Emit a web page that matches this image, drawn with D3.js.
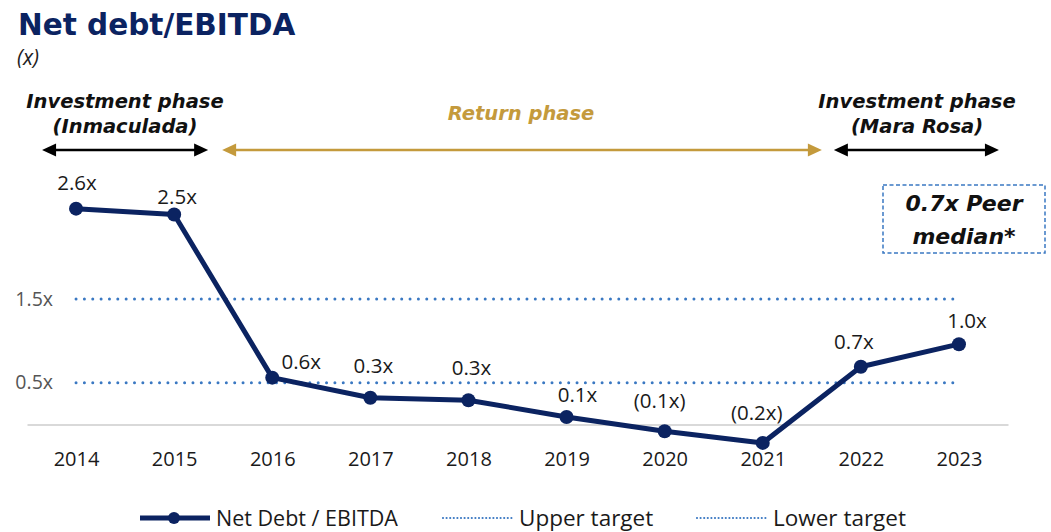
<!DOCTYPE html>
<html>
<head>
<meta charset="utf-8">
<script src="https://cdn.jsdelivr.net/npm/d3@7"></script>
<style>
  body { margin: 0; background: #fff; }
  svg { font-family: "Open Sans", sans-serif; }
  .heavy { font-family: "DejaVu Sans", sans-serif; font-weight: bold; }
</style>
</head>
<body>
<script>
// Data
const years = ["2014", "2015", "2016", "2017", "2018", "2019", "2020", "2021", "2022", "2023"];
const netDebtEbitda = [2.58, 2.51, 0.56, 0.32, 0.29, 0.09, -0.08, -0.22, 0.69, 0.96];
const valueLabels = ["2.6x", "2.5x", "0.6x", "0.3x", "0.3x", "0.1x", "(0.1x)", "(0.2x)", "0.7x", "1.0x"];
const upperTarget = 1.5;
const lowerTarget = 0.5;
const yTicks = [0.5, 1.5];
const seriesNames = ["Net Debt / EBITDA", "Upper target", "Lower target"];

// label nudges (dx, dy from the point), as placed in the original
const labelNudge = [[1, -19], [3, -10], [29, -9], [3, -25], [3, -25], [11, -15], [-5, -23], [-6, -23], [-7, -18], [8, -16]];

const navy = "#0b2361";
const blue = "#3a78c2";
const gold = "#c49a3c";

const width = 1051, height = 532;

const svg = d3.select("body")
  .append("svg")
  .attr("width", width)
  .attr("height", height);

// Scales
const x = d3.scalePoint()
  .domain(years)
  .range([27, 1008])
  .padding(0.5);

const y = d3.scaleLinear()
  .domain([0, 1.5])
  .range([424.5, 299]);

// Title
svg.append("text")
  .attr("class", "heavy")
  .attr("x", 18).attr("y", 35)
  .attr("font-size", 29.5)
  .attr("fill", navy)
  .text("Net debt/EBITDA");
svg.append("text")
  .attr("x", 17).attr("y", 65)
  .attr("font-size", 21).attr("font-style", "italic")
  .attr("fill", "#222")
  .text("(x)");

// X axis
const xAxis = svg.append("g")
  .attr("transform", `translate(0,${y(0)})`)
  .call(d3.axisBottom(x).tickSize(0).tickSizeOuter(0).tickPadding(27));
xAxis.select(".domain").attr("stroke", "#d9d9d9").attr("stroke-width", 2);
xAxis.selectAll("text")
  .attr("font-size", 20).attr("fill", "#1a1a1a")
  .style("font-family", "'Open Sans', sans-serif");

// Y axis (labels only)
const yAxis = svg.append("g")
  .attr("transform", "translate(53,0)")
  .call(d3.axisLeft(y).tickValues(yTicks).tickFormat(d => d + "x").tickSize(0).tickPadding(0));
yAxis.select(".domain").remove();
yAxis.selectAll("text")
  .attr("font-size", 19.5).attr("fill", "#555")
  .style("font-family", "'Open Sans', sans-serif");

// Target lines
[upperTarget, lowerTarget].forEach(t => {
  svg.append("line")
    .attr("x1", x(years[0])).attr("x2", x(years[years.length - 1]))
    .attr("y1", y(t)).attr("y2", y(t))
    .attr("stroke", blue)
    .attr("stroke-width", 3)
    .attr("stroke-linecap", "round")
    .attr("stroke-dasharray", "0 8.35");
});

// Main line
const series = years.map((yr, i) => ({year: yr, value: netDebtEbitda[i], label: valueLabels[i], nudge: labelNudge[i]}));

const line = d3.line()
  .x(d => x(d.year))
  .y(d => y(d.value));

svg.append("path")
  .datum(series)
  .attr("fill", "none")
  .attr("stroke", navy)
  .attr("stroke-width", 5)
  .attr("stroke-linejoin", "round")
  .attr("d", line);

svg.selectAll("circle.pt")
  .data(series)
  .join("circle")
  .attr("class", "pt")
  .attr("cx", d => x(d.year))
  .attr("cy", d => y(d.value))
  .attr("r", 7)
  .attr("fill", navy);

svg.selectAll("text.val")
  .data(series)
  .join("text")
  .attr("class", "val")
  .attr("x", d => x(d.year) + d.nudge[0])
  .attr("y", d => y(d.value) + d.nudge[1])
  .attr("text-anchor", "middle")
  .attr("font-size", 20.5)
  .attr("fill", "#1a1a1a")
  .text(d => d.label);

// Phase annotations
function arrow(x1, x2, yy, color) {
  const g = svg.append("g");
  g.append("line")
    .attr("x1", x1 + 10).attr("x2", x2 - 10)
    .attr("y1", yy).attr("y2", yy)
    .attr("stroke", color).attr("stroke-width", 2.5);
  g.append("path")
    .attr("d", `M${x1},${yy} L${x1 + 14},${yy - 6.5} L${x1 + 14},${yy + 6.5} Z`)
    .attr("fill", color);
  g.append("path")
    .attr("d", `M${x2},${yy} L${x2 - 14},${yy - 6.5} L${x2 - 14},${yy + 6.5} Z`)
    .attr("fill", color);
}

arrow(x("2014") - 34, x("2015") + 34, 150, "#000");
arrow(x("2015") + 48, x("2022") - 39, 150, gold);
arrow(x("2022") - 27, x("2023") + 40, 150, "#000");

function phaseText(cx, lines, y0, color) {
  lines.forEach((t, i) => {
    svg.append("text")
      .attr("class", "heavy")
      .attr("x", cx).attr("y", y0 + i * 25)
      .attr("text-anchor", "middle")
      .attr("font-size", 19.5).attr("font-style", "italic")
      .attr("fill", color)
      .text(t);
  });
}
phaseText(125, ["Investment phase", "(Inmaculada)"], 108, "#111");
phaseText(521, ["Return phase"], 120, gold);
phaseText(917, ["Investment phase", "(Mara Rosa)"], 108, "#111");

// Peer median box
svg.append("rect")
  .attr("x", 883).attr("y", 185)
  .attr("width", 162).attr("height", 68)
  .attr("fill", "none")
  .attr("stroke", blue).attr("stroke-width", 1.5)
  .attr("stroke-dasharray", "4 2.5");
[["0.7x Peer", 211], ["median*", 244]].forEach(([t, yy]) => {
  svg.append("text")
    .attr("class", "heavy")
    .attr("x", 964).attr("y", yy)
    .attr("text-anchor", "middle")
    .attr("font-size", 22).attr("font-style", "italic")
    .attr("fill", "#111")
    .text(t);
});

// Legend
const legY = 518;
const leg = svg.append("g");
leg.append("line")
  .attr("x1", 140).attr("x2", 210).attr("y1", legY).attr("y2", legY)
  .attr("stroke", navy).attr("stroke-width", 5);
leg.append("circle").attr("cx", 174).attr("cy", legY).attr("r", 6).attr("fill", navy);
leg.append("text").attr("x", 216).attr("y", legY + 7.5)
  .attr("font-size", 21.5).attr("fill", "#1a1a1a").text(seriesNames[0]);

[[443, seriesNames[1]], [697, seriesNames[2]]].forEach(([lx, name]) => {
  leg.append("line")
    .attr("x1", lx).attr("x2", lx + 69).attr("y1", legY).attr("y2", legY)
    .attr("stroke", blue).attr("stroke-width", 2.2)
    .attr("stroke-linecap", "round")
    .attr("stroke-dasharray", "0 3.6");
  leg.append("text").attr("x", lx + 76).attr("y", legY + 7.5)
    .attr("font-size", 22.5).attr("fill", "#1a1a1a").text(name);
});
</script>
</body>
</html>
